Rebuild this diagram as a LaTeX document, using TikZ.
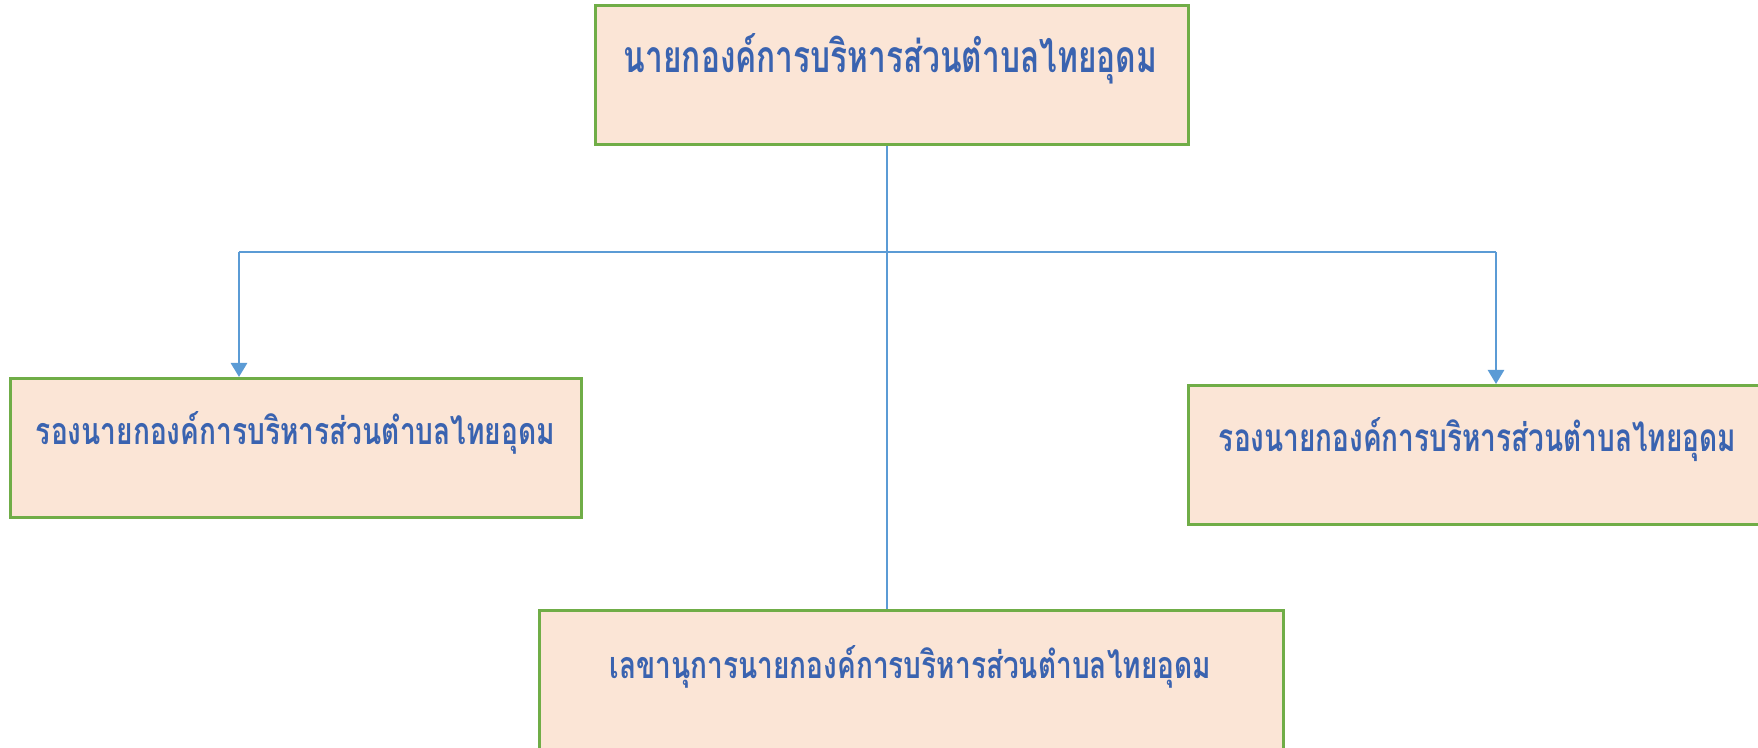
\documentclass[tikz,border=0pt]{standalone}
\usepackage{fontspec}
\usepackage{graphicx}
\newfontfamily\thaifont[Script=Thai]{Loma}
\usetikzlibrary{arrows.meta}
\definecolor{boxfill}{HTML}{FBE5D6}
\definecolor{boxline}{HTML}{70AD47}
\definecolor{conn}{HTML}{5B9BD5}
\definecolor{txt}{HTML}{3A63B0}
\newcommand{\thtext}[3]{\resizebox{#1}{#2}{\thaifont\bfseries #3}}
\tikzset{
  orgbox/.style={draw=boxline, line width=1.5pt, fill=boxfill, inner sep=0pt},
  orgtext/.style={inner sep=0pt, anchor=base, text=txt},
  link/.style={draw=conn, line width=1.3pt},
  arrowlink/.style={link, -{Triangle[width=8pt,length=7pt]}}
}
\begin{document}
\begin{tikzpicture}[x=0.5pt,y=-0.5pt]
\useasboundingbox (0,0) rectangle (1758,748);
\clip (0,0) rectangle (1758,748);
\fill[white] (0,0) rectangle (1758,748);
% boxes
\node[orgbox, minimum width=296.5pt, minimum height=69.5pt] (top) at (891.5,75.5) {};
\node[orgbox, minimum width=285.5pt, minimum height=69.5pt] (left) at (295.5,448) {};
\node[orgbox, minimum width=290pt, minimum height=69.5pt] (right) at (1478,455) {};
\node[orgbox, minimum width=372pt, minimum height=69.5pt] (bottom) at (911,680.5) {};
% texts
\node[orgtext] (ttop) at (890.5,73) {\thtext{266.5pt}{19.5pt}{นายกองค์การบริหารส่วนตำบลไทยอุดม}};
\node[orgtext] (tleft) at (295.5,445) {\thtext{259.5pt}{16.5pt}{รองนายกองค์การบริหารส่วนตำบลไทยอุดม}};
\node[orgtext] (tright) at (1477.5,452) {\thtext{258.5pt}{17pt}{รองนายกองค์การบริหารส่วนตำบลไทยอุดม}};
\node[orgtext] (tbottom) at (910.5,678) {\thtext{300.5pt}{16.5pt}{เลขานุการนายกองค์การบริหารส่วนตำบลไทยอุดม}};
% connectors
\coordinate (jc) at (887,252);
\coordinate (jl) at (239,252);
\coordinate (jr) at (1496,252);
\draw[link] (top.south -| jc) -- (bottom.north -| jc);
\draw[link] (jl) -- (jr);
\draw[arrowlink] (jl) -- (left.north -| jl);
\draw[arrowlink] (jr) -- (right.north -| jr);
\end{tikzpicture}
\end{document}
